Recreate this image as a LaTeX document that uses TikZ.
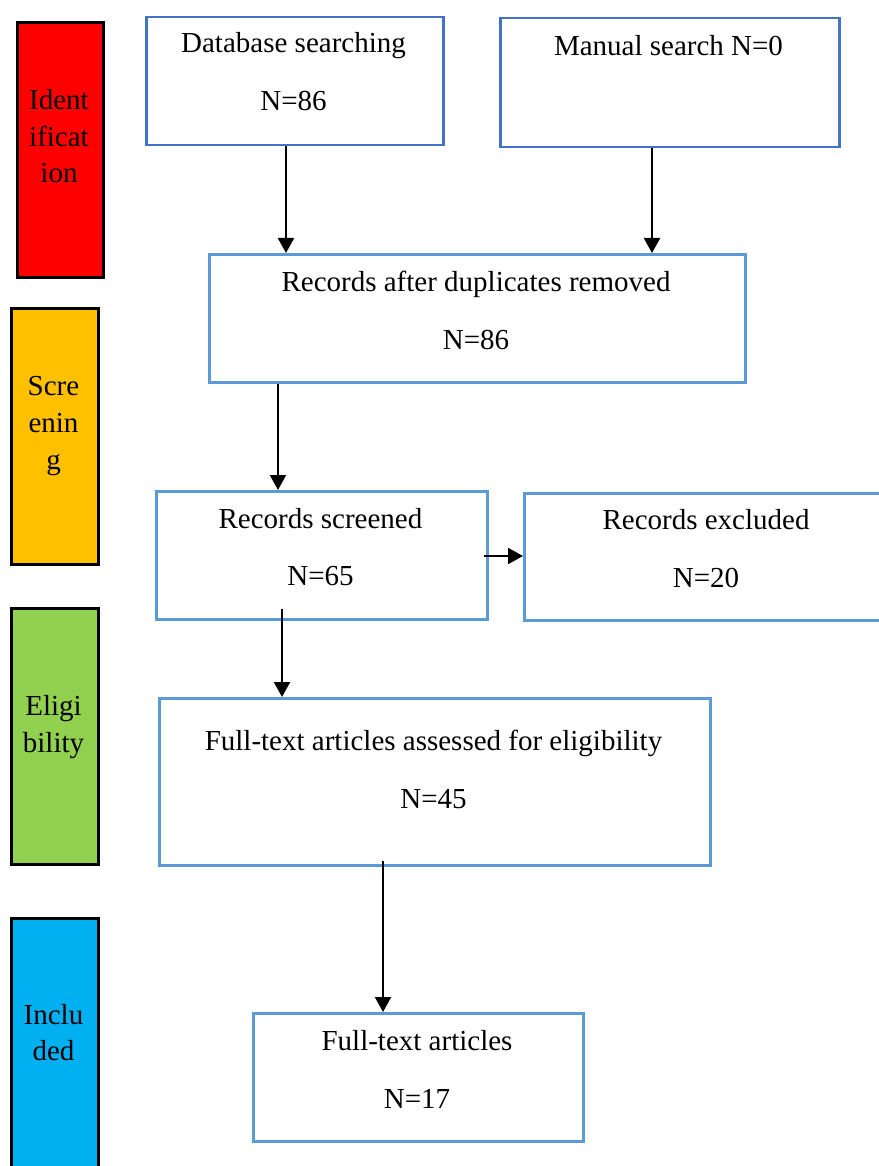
\documentclass[tikz,border=0pt]{standalone}
\usepackage{fontspec}
\setmainfont{Liberation Serif}
\usetikzlibrary{arrows.meta,calc}
\definecolor{bdark}{HTML}{4472C4}
\definecolor{blight}{HTML}{5B9BD5}
\definecolor{sred}{HTML}{FF0000}
\definecolor{sorange}{HTML}{FFC000}
\definecolor{sgreen}{HTML}{92D050}
\definecolor{sblue}{HTML}{00B0F0}
\tikzset{
  flowbox/.style={draw=blight, line width=2.5pt, fill=white, inner sep=0pt, anchor=north west},
  sidebox/.style={draw=black, line width=2.8pt, inner sep=0pt, anchor=north west},
  txt/.style={inner sep=0pt, anchor=base, font=\fontsize{29}{37}\selectfont},
  arr/.style={line width=2.2pt, -{Triangle[width=16pt,length=15pt]}},
}
\begin{document}
\begin{tikzpicture}[x=1pt,y=-1pt]
\useasboundingbox (0,0) rectangle (878,1166);
% side stage boxes
\node[sidebox, fill=sred, minimum width=86, minimum height=255] (sid) at (16,21) {};
\node[sidebox, fill=sorange, minimum width=87, minimum height=256] (sscr) at (10,307) {};
\node[sidebox, fill=sgreen, minimum width=87, minimum height=256] (selg) at (10,607) {};
\node[sidebox, fill=sblue, minimum width=87, minimum height=270] (sinc) at (10,917) {};
\node[txt] (t1) at (59,110) {Ident};
\node[txt] (t2) at (59,146.5) {ificat};
\node[txt] (t3) at (59,183) {ion};
\node[txt] (t4) at (53.5,395) {Scre};
\node[txt] (t5) at (53.5,432) {enin};
\node[txt] (t6) at (53.5,469) {g};
\node[txt] (t7) at (53.5,715) {Eligi};
\node[txt] (t8) at (53.5,752) {bility};
\node[txt] (t9) at (53.5,1024) {Inclu};
\node[txt] (t10) at (53.5,1060) {ded};
% flow boxes
\node[flowbox, draw=bdark, minimum width=297, minimum height=128] (db) at (145,16) {};
\node[flowbox, draw=bdark, minimum width=339, minimum height=129] (ms) at (499,17) {};
\node[flowbox, minimum width=536, minimum height=128] (rad) at (208,253) {};
\node[flowbox, minimum width=331, minimum height=128] (scr) at (155,490) {};
\node[flowbox, minimum width=370, minimum height=127] (exc) at (523,492) {};
\node[flowbox, minimum width=551, minimum height=167] (fta) at (158,697) {};
\node[flowbox, minimum width=330, minimum height=128] (fin) at (252,1012) {};
% texts
\node[txt] (x1) at (293.5,53) {Database searching};
\node[txt] (x2) at (293.5,111) {N=86};
\node[txt] (x3) at (668.5,56) {Manual search N=0};
\node[txt] (x4) at (476,291) {Records after duplicates removed};
\node[txt] (x5) at (476,349) {N=86};
\node[txt] (x6) at (320.5,528) {Records screened};
\node[txt] (x7) at (320.5,585) {N=65};
\node[txt] (x8) at (706,529) {Records excluded};
\node[txt] (x9) at (706,587) {N=20};
\node[txt] (x10) at (433.5,750) {Full-text articles assessed for eligibility};
\node[txt] (x11) at (433.5,808) {N=45};
\node[txt] (x12) at (417,1050) {Full-text articles};
\node[txt] (x13) at (417,1108) {N=17};
% arrow guide coordinates
\coordinate (c1) at (286,0);
\coordinate (c2) at (652,0);
\coordinate (c3) at (278,0);
\coordinate (c4) at (282,0);
\coordinate (c5) at (0,556);
\coordinate (c6) at (383,0);
% connectors
\draw[arr] (db.south -| c1) -- (rad.north -| c1);
\draw[arr] (ms.south -| c2) -- (rad.north -| c2);
\draw[arr] (rad.south -| c3) -- (scr.north -| c3);
\draw[arr] ([yshift=12pt]scr.south -| c4) -- (fta.north -| c4);
\draw[arr] ([xshift=-5pt]scr.east |- c5) -- (exc.west |- c5);
\draw[arr] ([yshift=6pt]fta.south -| c6) -- (fin.north -| c6);
\end{tikzpicture}
\end{document}
